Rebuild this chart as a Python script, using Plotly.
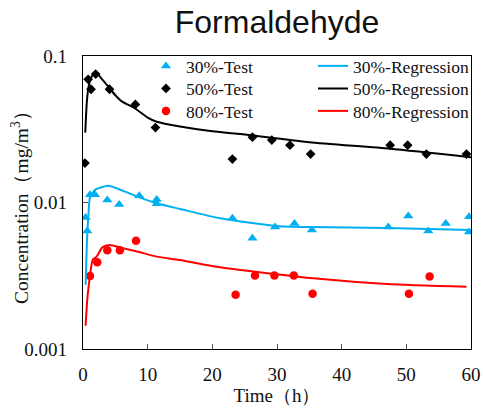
import plotly.graph_objects as go

# ---------------- data ----------------
t30_test = [0.4, 0.67, 1.08, 1.86, 3.76, 5.6, 8.7, 11.4, 11.4, 23.1, 26.2, 29.7, 32.7, 35.4, 47.2, 50.3, 53.4, 56.1, 59.7, 59.7]
c30_test = [0.0079, 0.0064, 0.0113, 0.0113, 0.0104, 0.0097, 0.0111, 0.0105, 0.0098, 0.0078, 0.0057, 0.0068, 0.0072, 0.0065, 0.0068, 0.0081, 0.0064, 0.0072, 0.0080, 0.0063]

t50_test = [0.3, 0.8, 1.24, 1.96, 4.1, 8.1, 11.2, 23.1, 26.2, 29.2, 32.0, 35.2, 47.5, 50.2, 53.1, 59.3]
c50_test = [0.0186, 0.0693, 0.0593, 0.0753, 0.0593, 0.0467, 0.0325, 0.0198, 0.0279, 0.0267, 0.0246, 0.0214, 0.0246, 0.0246, 0.0214, 0.0214]

t80_test = [1.08, 2.2, 3.76, 5.7, 8.2, 23.6, 26.6, 29.6, 32.6, 35.5, 50.4, 53.6]
c80_test = [0.00315, 0.00391, 0.00472, 0.00472, 0.00548, 0.00235, 0.00318, 0.00318, 0.00318, 0.00238, 0.00238, 0.00313]

t30_reg = [0.4, 0.6, 0.85, 1.08, 1.86, 3.9, 6.2, 8.8, 11.4, 15, 21.2, 29.9, 35, 47, 60]
c30_reg = [0.00274, 0.00526, 0.00843, 0.0108, 0.0122, 0.0130, 0.0120, 0.0108, 0.00988, 0.00904, 0.0078, 0.00692, 0.0068, 0.0067, 0.0065]

t50_reg = [0.35, 0.6, 0.9, 1.3, 2.0, 3.0, 4.0, 5.0, 6.0, 8.0, 10, 11.4, 15, 20, 26, 35, 47.5, 60]
c50_reg = [0.030, 0.049, 0.063, 0.072, 0.077, 0.069, 0.061, 0.054, 0.049, 0.044, 0.038, 0.0356, 0.0330, 0.0306, 0.0288, 0.0258, 0.0233, 0.0204]

t80_reg = [0.4, 0.7, 1.08, 1.5, 2.1, 3.0, 4.07, 6.2, 8.5, 11.4, 15, 21.2, 35.6, 47, 59.3]
c80_reg = [0.00144, 0.00228, 0.00315, 0.00406, 0.00427, 0.00494, 0.00513, 0.00487, 0.00461, 0.00427, 0.00405, 0.00361, 0.00304, 0.00278, 0.00266]

x_ticks = [0, 10, 20, 30, 40, 50, 60]
y_ticks = [0.001, 0.01, 0.1]
y_ticktext = ["0.001", "0.01", "0.1"]

CYAN = "#00B0F0"
RED = "#FF0000"
BLACK = "#000000"
SERIF = "Liberation Serif"
TXT = "#111111"

fig = go.Figure()

# tests (markers)
fig.add_trace(go.Scatter(x=t30_test, y=c30_test, mode="markers", name="30%-Test",
                         marker=dict(symbol="triangle-up", size=9, color=CYAN), legend="legend"))
fig.add_trace(go.Scatter(x=t50_test, y=c50_test, mode="markers", name="50%-Test",
                         marker=dict(symbol="diamond", size=7.5, color=BLACK), legend="legend2"))
fig.add_trace(go.Scatter(x=t80_test, y=c80_test, mode="markers", name="80%-Test",
                         marker=dict(symbol="circle", size=8.5, color=RED), legend="legend3"))

# regressions (lines)
fig.add_trace(go.Scatter(x=t30_reg, y=c30_reg, mode="lines", name="30%-Regression",
                         line=dict(color=CYAN, width=2, shape="spline", smoothing=0.6), legend="legend4"))
fig.add_trace(go.Scatter(x=t50_reg, y=c50_reg, mode="lines", name="50%-Regression",
                         line=dict(color=BLACK, width=2, shape="spline", smoothing=0.6), legend="legend5"))
fig.add_trace(go.Scatter(x=t80_reg, y=c80_reg, mode="lines", name="80%-Regression",
                         line=dict(color=RED, width=2, shape="spline", smoothing=0.6), legend="legend6"))

W, H = 483, 409
L, R, T, B = 83, 12, 56, 60
pw, ph = W - L - R, H - T - B

def px_x(px):
    return (px - L) / pw

def px_y(py):
    return 1 - (py - T) / ph

leg_font = dict(family=SERIF, size=17.5, color=TXT)
legend_common = dict(font=leg_font, bgcolor="rgba(0,0,0,0)", borderwidth=0,
                     xanchor="left", yanchor="middle")
rows = [66, 88.5, 111]
fig.update_layout(
    legend=dict(x=px_x(146), y=px_y(rows[0]), **legend_common),
    legend2=dict(x=px_x(146), y=px_y(rows[1]), **legend_common),
    legend3=dict(x=px_x(146), y=px_y(rows[2]), **legend_common),
    legend4=dict(x=px_x(313), y=px_y(rows[0]), **legend_common),
    legend5=dict(x=px_x(313), y=px_y(rows[1]), **legend_common),
    legend6=dict(x=px_x(313), y=px_y(rows[2]), **legend_common),
)

fig.update_layout(
    width=W, height=H,
    margin=dict(l=L, r=R, t=T, b=B, autoexpand=False),
    paper_bgcolor="white", plot_bgcolor="white",
    font=dict(family=SERIF, size=19, color=TXT),
    showlegend=True,
    title=dict(text="Formaldehyde", xref="paper", x=0.5, xanchor="center",
               yref="container", y=1 - 22 / H, yanchor="middle",
               font=dict(family="Arial", size=32, color=TXT)),
    xaxis=dict(range=[0, 60], tickvals=x_ticks, ticks="inside", ticklen=5, tickcolor="#555555",
               showgrid=False, zeroline=False, showline=True, linecolor="black", linewidth=1.3,
               mirror=True, ticklabelstandoff=8,
               tickfont=dict(family=SERIF, size=19, color=TXT),
               title=dict(text="Time（h）", standoff=4,
                          font=dict(family=SERIF, size=19, color=TXT))),
    yaxis=dict(type="log", range=[-3, -1], tickvals=y_ticks, ticktext=y_ticktext,
               ticks="inside", ticklen=5, tickcolor="#555555",
               showgrid=False, zeroline=False, showline=True, linecolor="black", linewidth=1.3,
               mirror=True, ticklabelstandoff=11,
               tickfont=dict(family=SERIF, size=19, color=TXT)),
    annotations=[dict(text="Concentration（mg/m<sup>3</sup>）", textangle=-90,
                      xref="paper", yref="paper", x=px_x(20), y=px_y(203),
                      xanchor="center", yanchor="middle", showarrow=False,
                      font=dict(family=SERIF, size=19.5, color=TXT))],
)

fig.write_html("out.html")
